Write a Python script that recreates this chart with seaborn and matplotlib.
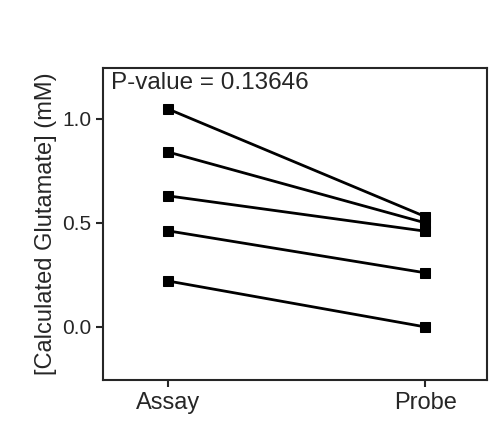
import seaborn as sns
import matplotlib.pyplot as plt
import pandas as pd

conditions = ["Assay", "Probe"]
assay_values = [1.048, 0.841, 0.630, 0.462, 0.221]
probe_values = [0.530, 0.500, 0.460, 0.260, 0.000]
p_label = "P-value = 0.13646"

rows = []
for i, (a, p) in enumerate(zip(assay_values, probe_values)):
    rows.append({"subject": i, "x": 0, "value": a})
    rows.append({"subject": i, "x": 1, "value": p})
df = pd.DataFrame(rows)

sns.set_style("ticks")
plt.rcParams['font.family'] = ['Liberation Sans', 'DejaVu Sans']
fig = plt.figure(figsize=(4.96, 4.46), dpi=100)
ax = fig.add_axes([0.208, 0.148, 0.774, 0.70])

sns.lineplot(data=df, x="x", y="value", units="subject", estimator=None,
             color="black", linewidth=2, marker="s", markersize=7,
             markeredgecolor="black", ax=ax)

ax.set_xlim(-0.25, 1.24)
ax.set_ylim(-0.255, 1.245)
ax.set_xticks([0, 1])
ax.set_xticklabels(conditions, fontsize=17)
ax.set_yticks([0.0, 0.5, 1.0])
ax.set_yticklabels(["0.0", "0.5", "1.0"], fontsize=15)
ax.set_xlabel("")
ax.set_ylabel("[Calculated Glutamate] (mM)", fontsize=17)
ax.tick_params(direction="out", width=1.5, length=5)
for s in ax.spines.values():
    s.set_linewidth(1.5)
    s.set_visible(True)
ax.text(0.02, 0.985, p_label, transform=ax.transAxes, fontsize=17.5, va="top", ha="left")

fig.savefig("out.png", dpi=100)
